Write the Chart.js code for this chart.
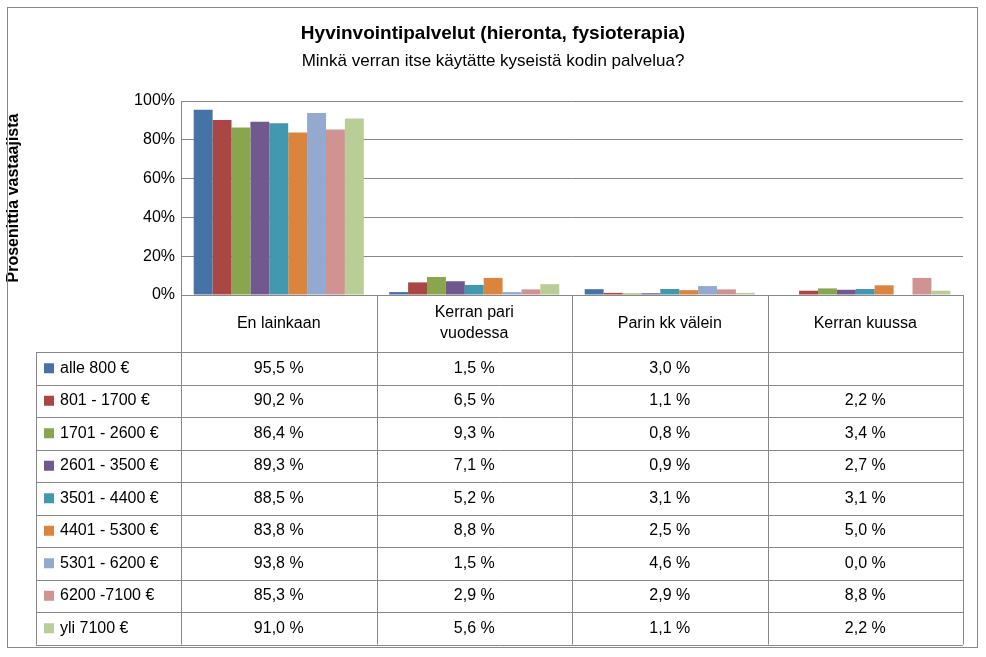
<!DOCTYPE html>
<html><head><meta charset="utf-8">
<script src="https://cdn.jsdelivr.net/npm/chart.js@4/dist/chart.umd.min.js"></script>
<style>html,body{margin:0;padding:0;background:#fff}#w{position:relative;width:986px;height:657px}</style>
</head><body><div id="w"><canvas id="c" width="986" height="657"></canvas></div>
<script>
const categories = ["En lainkaan", ["Kerran pari","vuodessa"], "Parin kk välein", "Kerran kuussa"];
const seriesNames = ["alle 800 €","801 - 1700 €","1701 - 2600 €","2601 - 3500 €","3501 - 4400 €","4401 - 5300 €","5301 - 6200 €","6200 -7100 €","yli 7100 €"];
const s1 = [95.5,1.5,3.0,null];
const s2 = [90.2,6.5,1.1,2.2];
const s3 = [86.4,9.3,0.8,3.4];
const s4 = [89.3,7.1,0.9,2.7];
const s5 = [88.5,5.2,3.1,3.1];
const s6 = [83.8,8.8,2.5,5.0];
const s7 = [93.8,1.5,4.6,0.0];
const s8 = [85.3,2.9,2.9,8.8];
const s9 = [91.0,5.6,1.1,2.2];
const series = [s1,s2,s3,s4,s5,s6,s7,s8,s9];
const colors = ["#4572A7","#AA4643","#89A54E","#71588F","#4198AF","#DB843D","#93A9CF","#D19392","#B9CD96"];
const yTicks = [0,20,40,60,80,100];
const FONT = '"Liberation Sans", Arial, sans-serif';
const fmt = v => v==null ? "" : v.toFixed(1).replace(".",",")+" %";

const tablePlugin = {
  id:'tbl',
  afterDraw(chart){
    const ctx = chart.ctx, xs = chart.scales.x, a = chart.chartArea;
    const left = 36, top = a.bottom, headH = 57, rowH = 32.5;
    const n = categories.length;
    const edges = [];
    for(let i=0;i<=n;i++) edges.push(a.left + (a.right-a.left)*i/n);
    ctx.save();
    ctx.strokeStyle = "#888"; ctx.lineWidth = 1;
    const bottom = top+headH+rowH*seriesNames.length;
    // vertical lines
    ctx.beginPath();
    edges.forEach(x=>{ctx.moveTo(Math.round(x)+0.5,top);ctx.lineTo(Math.round(x)+0.5,bottom);});
    ctx.moveTo(left+0.5,top+headH);ctx.lineTo(left+0.5,bottom);
    // horizontal
    for(let r=0;r<=seriesNames.length;r++){
      const y=Math.round(top+headH+r*rowH)+0.5;
      ctx.moveTo(left,y);ctx.lineTo(a.right,y);
    }
    ctx.stroke();
    ctx.fillStyle="#000"; ctx.font = "16px "+FONT; ctx.textAlign="center"; ctx.textBaseline="middle";
    categories.forEach((c,i)=>{
      const cx = xs.getPixelForValue(i);
      const lines = Array.isArray(c)?c:[c];
      lines.forEach((l,k)=>ctx.fillText(l,cx,top+headH/2+(k-(lines.length-1)/2)*21));
    });
    seriesNames.forEach((nm,r)=>{
      const cy = top+headH+r*rowH+rowH/2;
      ctx.fillStyle=colors[r]; ctx.fillRect(left+8,cy-5,10,10);
      ctx.fillStyle="#000"; ctx.textAlign="left"; ctx.fillText(nm,left+24,cy);
      ctx.textAlign="center";
      series[r].forEach((v,i)=>ctx.fillText(fmt(v),xs.getPixelForValue(i),cy));
    });
    // title
    ctx.font="bold 19px "+FONT; ctx.fillText("Hyvinvointipalvelut (hieronta, fysioterapia)",493,34);
    ctx.font="17px "+FONT; ctx.fillText("Minkä verran itse käytätte kyseistä kodin palvelua?",493,61);
    // frame
    ctx.strokeStyle="#888"; ctx.strokeRect(7.5,7.5,970,640);
    ctx.restore();
  }
};

new Chart(document.getElementById('c'),{
  type:'bar',
  data:{labels:categories.map((c,i)=>i),datasets:series.map((d,i)=>({label:seriesNames[i],data:d,backgroundColor:colors[i]}))},
  options:{
    responsive:false,animation:false,devicePixelRatio:1,
    layout:{padding:{top:101,bottom:362,right:23,left:0}},
    plugins:{legend:{display:false},tooltip:{enabled:false}},
    datasets:{bar:{categoryPercentage:0.87,barPercentage:1}},
    scales:{
      x:{grid:{display:false,drawTicks:false},border:{color:"#888"},ticks:{display:false}},
      y:{min:0,max:100,afterFit(s){s.width=181;},
        afterBuildTicks(s){s.ticks=yTicks.map(v=>({value:v}));},
        ticks:{callback:v=>v+"%",color:"#000",font:{family:FONT,size:16},padding:6},
        grid:{color:"#888",drawTicks:false},border:{color:"#888"},
        title:{display:true,text:"Prosenittia vastaajista",color:"#000",font:{family:FONT,size:16,weight:"bold"},padding:{bottom:18}}}
    }
  },
  plugins:[tablePlugin]
});
</script></body></html>
